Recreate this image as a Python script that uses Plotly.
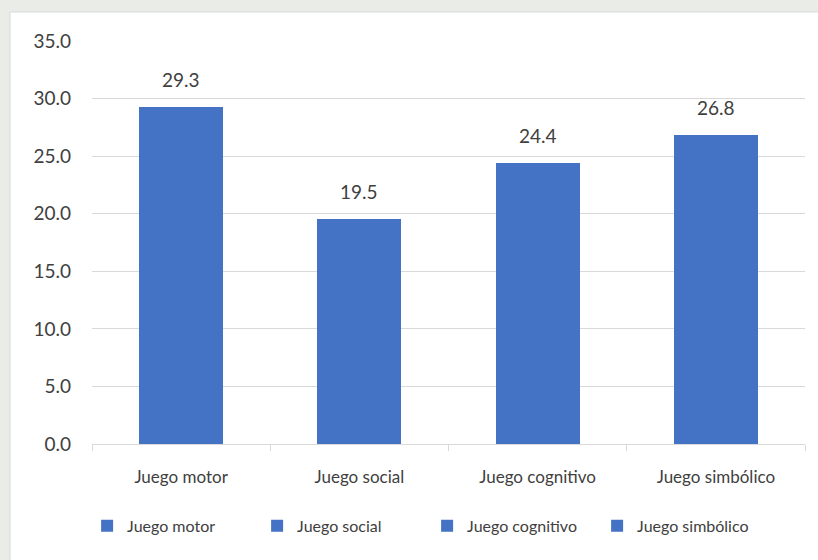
import plotly.graph_objects as go

categories = ['Juego motor', 'Juego social', 'Juego cognitivo', 'Juego simbólico']
values = [29.3, 19.5, 24.4, 26.8]
y_ticks = [0, 5, 10, 15, 20, 25, 30, 35]

BAR_COLOR = '#4472C4'
FONT = 'Lato, "Open Sans", sans-serif'

fig = go.Figure()
for cat, val in zip(categories, values):
    fig.add_trace(go.Bar(
        x=[cat], y=[val], name=cat,
        marker_color=BAR_COLOR, marker_line_width=0,
        hoverinfo='skip'
    ))
    fig.add_annotation(
        x=cat, y=val, text=f'{val:.1f}', showarrow=False,
        yanchor='bottom', yshift=14,
        font=dict(family=FONT, size=19, color='#404040')
    )

# white chart area with thin grey border over the faint background
fig.add_shape(
    type='rect', xref='paper', yref='paper',
    x0=-0.115, x1=1.1, y0=-0.5, y1=1.072,
    fillcolor='white', line=dict(color='#d9d9d9', width=1), layer='below'
)

fig.update_layout(
    width=818, height=560,
    margin=dict(l=92, r=13, t=41, b=116, autoexpand=False),
    paper_bgcolor='#eaece8', plot_bgcolor='rgba(0,0,0,0)',
    barmode='stack', bargap=0.53,
    font=dict(family=FONT, size=16, color='#595959'),
    showlegend=True,
    legend=dict(
        orientation='h', traceorder='normal',
        x=0.47, xanchor='center', y=-0.203, yanchor='middle',
        font=dict(family=FONT, size=16, color='#404040'),
        entrywidth=125, entrywidthmode='pixels',
        itemwidth=30, bgcolor='rgba(0,0,0,0)'
    ),
)
fig.update_xaxes(
    showgrid=False, showline=True, linecolor='#d9d9d9', linewidth=1,
    ticks='outside', tickson='boundaries', ticklen=6, tickcolor='#d9d9d9',
    tickfont=dict(family=FONT, size=17, color='#404040'), ticklabelstandoff=18
)
fig.update_yaxes(
    range=[0, 35], tickvals=y_ticks, tickformat='.1f',
    showgrid=True, gridcolor='#d9d9d9', gridwidth=1, zeroline=False,
    showline=False, ticks='', ticklabelstandoff=20,
    tickfont=dict(family=FONT, size=19, color='#404040')
)

fig.write_html('out.html', config={'displayModeBar': False},
               post_script="document.body.style.margin='0';")
